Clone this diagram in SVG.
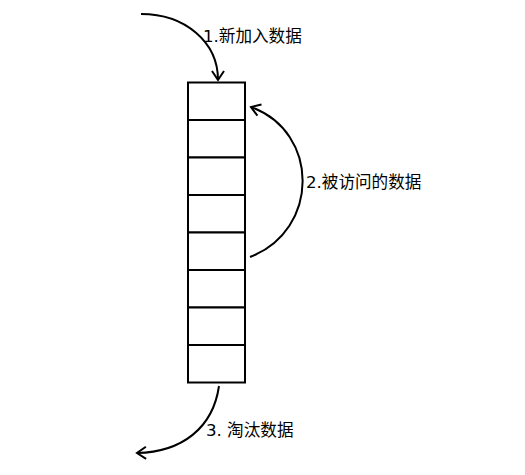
<svg xmlns="http://www.w3.org/2000/svg" width="525" height="475" viewBox="0 0 525 475">
<style>
.box{fill:#fff;stroke:#000;stroke-width:2}
.conn{fill:none;stroke:#000;stroke-width:2}
.lbl{font-family:"DejaVu Sans","Noto Sans CJK SC",sans-serif;font-size:16.6px;fill:#000}
</style>
<defs>
<marker id="arr" markerUnits="userSpaceOnUse" viewBox="-12 -8 14 16" markerWidth="14" markerHeight="16" refX="0" refY="0" orient="auto">
<path d="M-9,-6 L0,0 L-9,6" fill="none" stroke="#000" stroke-width="2"/>
</marker>
</defs>
<rect width="525" height="475" fill="#fff"/>
<g id="stack">
<rect class="box" x="188" y="82.5" width="57" height="37.5"/>
<rect class="box" x="188" y="120" width="57" height="37.5"/>
<rect class="box" x="188" y="157.5" width="57" height="37.5"/>
<rect class="box" x="188" y="195" width="57" height="37.5"/>
<rect class="box" x="188" y="232.5" width="57" height="37.5"/>
<rect class="box" x="188" y="270" width="57" height="37.5"/>
<rect class="box" x="188" y="307.5" width="57" height="37.5"/>
<rect class="box" x="188" y="345" width="57" height="37.5"/>
</g>
<g id="connectors">
<path class="conn" d="M141,14 C185,14 218,42 218,80" marker-end="url(#arr)"/>
<path class="conn" d="M250,257 C320,230 320,132 251,107" marker-end="url(#arr)"/>
<path class="conn" d="M219,386 C213,428 182,452 137,453" marker-end="url(#arr)"/>
</g>
<g id="labels">
<text class="lbl" x="203" y="42">1.新加入数据</text>
<text class="lbl" x="306" y="188">2.被访问的数据</text>
<text class="lbl" x="206" y="436">3. 淘汰数据</text>
</g>
</svg>
